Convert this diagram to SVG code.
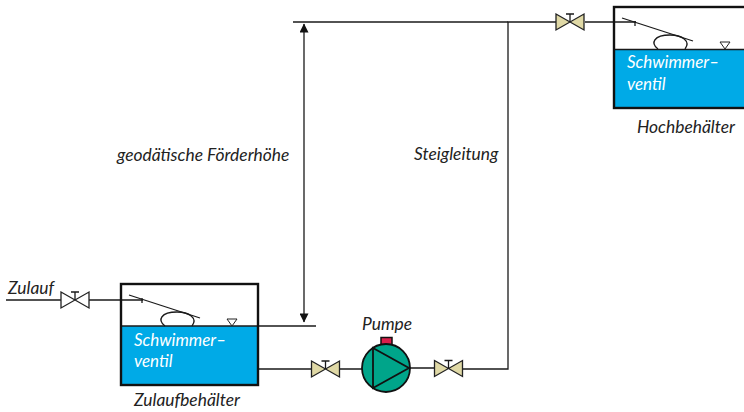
<svg xmlns="http://www.w3.org/2000/svg" width="744" height="412" viewBox="0 0 744 412">
<style>
.l{fill:none;stroke:#1a1a1a;stroke-width:1.3}
.tk{fill:none;stroke:#111;stroke-width:2.4}
.w{fill:#00aae7}
.t{font-family:Lato,"Open Sans",sans-serif;font-style:italic;font-size:17.400px;fill:#222}
.tw{font-family:Lato,"Open Sans",sans-serif;font-style:italic;font-size:17px;fill:#fff}
.vo{fill:#fff;stroke:#222;stroke-width:1.3}
.vb{fill:#e0d9a6;stroke:#222;stroke-width:1.3}
</style>
<defs>
<marker id="a" viewBox="0 0 10 10" refX="9.500" refY="5" markerWidth="12" markerHeight="9" markerUnits="userSpaceOnUse" orient="auto-start-reverse"><path d="M0 0L10 5L0 10Z" fill="#111"/></marker>
<g id="fl">
<path class="l" d="M8 11L79 34"/>
<path class="l" d="M21 14V19"/>
<path class="l" d="M44 42C36 36 40 28 56 28C68 28 77 34 71 42"/>
<path d="M106 35H116L111 42Z" fill="#fff" stroke="#222"/>
</g>
<g id="v">
<path d="M-14-8L14 8V-8L-14 8Z"/>
<path class="l" d="M0 0V-8M-4-8H4"/>
</g>
</defs>
<g id="connectors">
<path class="l" d="M6 300H61M89 300H143"/>
<path class="l" d="M258 369H311M340 369H362M410 368H434M463 369H508V22H556M585 22H636"/>
<path class="l" d="M293 22H508"/>
<path class="l" d="M258 326H316"/>
<path class="l" d="M304 24V322" marker-start="url(#a)" marker-end="url(#a)"/>
</g>
<g id="zulaufbehaelter">
<rect class="w" x="121" y="326" width="137" height="59"/>
<path class="l" d="M121 326H258"/>
<rect class="tk" x="121" y="284" width="137" height="101"/>
<use href="#fl" x="121" y="284"/>
<text class="tw" x="134" y="346">Schwimmer–</text>
<text class="tw" x="134" y="367">ventil</text>
<text class="t" x="134" y="406">Zulaufbehälter</text>
</g>
<g id="hochbehaelter">
<rect class="w" x="614" y="49" width="132" height="59"/>
<path class="l" d="M614 49.500H746"/>
<rect class="tk" x="614" y="7" width="134" height="101"/>
<use href="#fl" x="614" y="7"/>
<text class="tw" x="627" y="68">Schwimmer–</text>
<text class="tw" x="627" y="90">ventil</text>
<text class="t" x="637" y="133">Hochbehälter</text>
</g>
<g id="valve-zulauf"><use href="#v" x="75" y="300" class="vo"/></g>
<g id="valve-saug"><use href="#v" x="325.500" y="369" class="vb"/></g>
<g id="valve-druck"><use href="#v" x="448.500" y="368.500" class="vb"/></g>
<g id="valve-hoch"><use href="#v" x="570" y="22" class="vb"/></g>
<g id="pumpe">
<rect x="381" y="337.500" width="11" height="7.500" fill="#dc1f4b" stroke="#111" stroke-width="1.500"/>
<circle cx="386" cy="368" r="24" fill="#00a58a" stroke="#111" stroke-width="1.800"/>
<path d="M373 348L409 368L373 388Z" fill="none" stroke="#111" stroke-width="1.800"/>
<text class="t" x="362" y="330">Pumpe</text>
</g>
<text class="t" x="8" y="294">Zulauf</text>
<text class="t" x="117" y="161">geodätische Förderhöhe</text>
<text class="t" x="414" y="160">Steigleitung</text>
</svg>
